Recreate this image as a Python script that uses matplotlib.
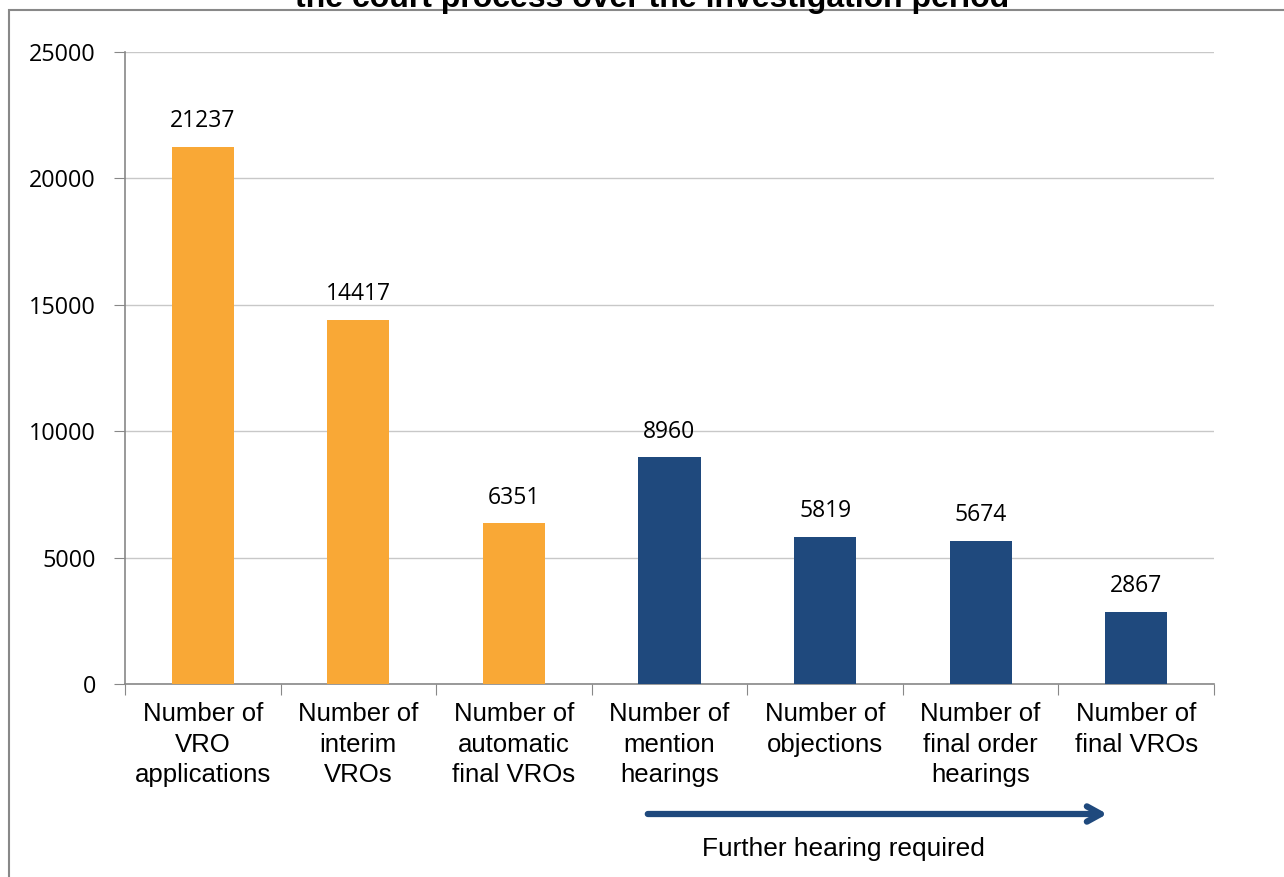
import matplotlib.pyplot as plt
from matplotlib.patches import Rectangle

categories = ["Number of\nVRO\napplications", "Number of\ninterim\nVROs",
              "Number of\nautomatic\nfinal VROs", "Number of\nmention\nhearings",
              "Number of\nobjections", "Number of\nfinal order\nhearings",
              "Number of\nfinal VROs"]
values = [21237, 14417, 6351, 8960, 5819, 5674, 2867]
colors = ["#F9A836"] * 3 + ["#1F497D"] * 4
yticks = [0, 5000, 10000, 15000, 20000, 25000]

plt.rcParams['font.family'] = ['Liberation Sans', 'DejaVu Sans']

fig = plt.figure(figsize=(12.84, 8.77), dpi=100)
ax = fig.add_axes([125/1284, 1-684/877, (1214-125)/1284, (684-52)/877])

x = list(range(len(values)))
ax.bar(x, values, width=0.4, color=colors, zorder=3)
for i, v in enumerate(values):
    ax.text(i, v + 540, str(v), ha='center', va='bottom', fontsize=16.5,
            family=['Open Sans', 'DejaVu Sans'])

ax.set_xlim(-0.5, len(values) - 0.5)
ax.set_ylim(0, 25000)
ax.set_yticks(yticks)
ax.set_yticklabels([str(t) for t in yticks], fontsize=16.8,
                   family=['Open Sans', 'DejaVu Sans'])
ax.yaxis.grid(True, color='#C8C8C8', linewidth=1, zorder=0)

ax.set_xticks([i - 0.5 for i in range(len(values) + 1)])
ax.set_xticklabels([])
ax.set_xticks(x, minor=True)
ax.set_xticklabels(categories, minor=True, fontsize=18.5, linespacing=1.35)
ax.tick_params(axis='x', which='major', length=8, color='#888888', direction='out')
ax.tick_params(axis='x', which='minor', length=0, pad=13)
ax.tick_params(axis='y', length=8, color='#888888', pad=13)

for s in ['top', 'right']:
    ax.spines[s].set_visible(False)
for s in ['left', 'bottom']:
    ax.spines[s].set_color('#888888')
    ax.spines[s].set_linewidth(1.2)

# arrow below labels
ax.annotate('', xy=(1110/1284, 1-814/877), xytext=(645/1284, 1-814/877),
            xycoords='figure fraction', textcoords='figure fraction',
            arrowprops=dict(arrowstyle='->,head_length=1.0,head_width=0.55',
                            color='#1F497D', lw=4.5))
fig.text(843/1284, 1-849/877, 'Further hearing required', ha='center',
         va='center', fontsize=18.9)

# title (cut off at the top)
fig.text(652/1284, 1-7/877, 'the court process over the investigation period',
         ha='center', va='baseline', fontsize=23, fontweight='bold')

# outer frame
fig.patches.append(Rectangle((9/1284, -0.1), 1.2, 1.1 - 10/877,
                             transform=fig.transFigure, fill=False,
                             edgecolor='#888888', linewidth=1.5))

fig.savefig('out.png', dpi=100)
